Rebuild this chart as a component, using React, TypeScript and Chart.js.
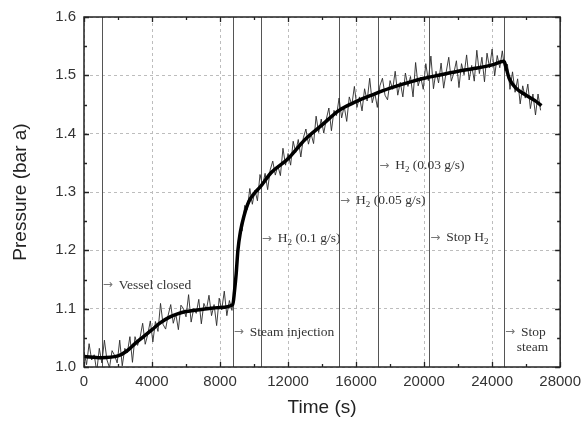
import React, { useEffect, useRef } from "react";
import { Chart, registerables } from "chart.js";

Chart.register(...registerables);

// ---- data ----
const rawTime = [
  0, 150, 300, 450, 600, 750, 900, 1050, 1200, 1350,
  1500, 1650, 1800, 1950, 2100, 2250, 2400, 2550, 2700, 2850,
  3000, 3150, 3300, 3450, 3600, 3750, 3900, 4050, 4200, 4350,
  4500, 4650, 4800, 4950, 5100, 5250, 5400, 5550, 5700, 5850,
  6000, 6150, 6300, 6450, 6600, 6750, 6900, 7050, 7200, 7350,
  7500, 7650, 7800, 7950, 8100, 8250, 8400, 8550, 8700, 8850,
  9000, 9150, 9300, 9450, 9600, 9750, 9900, 10050, 10200, 10350,
  10500, 10650, 10800, 10950, 11100, 11250, 11400, 11550, 11700, 11850,
  12000, 12150, 12300, 12450, 12600, 12750, 12900, 13050, 13200, 13350,
  13500, 13650, 13800, 13950, 14100, 14250, 14400, 14550, 14700, 14850,
  15000, 15150, 15300, 15450, 15600, 15750, 15900, 16050, 16200, 16350,
  16500, 16650, 16800, 16950, 17100, 17250, 17400, 17550, 17700, 17850,
  18000, 18150, 18300, 18450, 18600, 18750, 18900, 19050, 19200, 19350,
  19500, 19650, 19800, 19950, 20100, 20250, 20400, 20550, 20700, 20850,
  21000, 21150, 21300, 21450, 21600, 21750, 21900, 22050, 22200, 22350,
  22500, 22650, 22800, 22950, 23100, 23250, 23400, 23550, 23700, 23850,
  24000, 24150, 24300, 24450, 24600, 24750, 24900, 25050, 25200, 25350,
  25500, 25650, 25800, 25950, 26100, 26250, 26400, 26550, 26700, 26850,
];
const rawPressure = [
  1.026, 1.004, 1.040, 1.012, 1.021, 0.992, 1.032, 1.007, 1.046, 1.012,
  0.999, 1.028, 1.020, 1.007, 1.046, 1.002, 1.032, 1.025, 1.052, 1.008,
  1.052, 1.037, 1.051, 1.075, 1.039, 1.056, 1.079, 1.043, 1.078, 1.061,
  1.109, 1.073, 1.065, 1.089, 1.107, 1.075, 1.091, 1.064, 1.106, 1.100,
  1.086, 1.124, 1.077, 1.100, 1.092, 1.116, 1.074, 1.109, 1.098, 1.123,
  1.088, 1.107, 1.071, 1.118, 1.098, 1.130, 1.088, 1.114, 1.097, 1.135,
  1.172, 1.232, 1.233, 1.277, 1.270, 1.306, 1.279, 1.303, 1.285, 1.330,
  1.311, 1.332, 1.304, 1.338, 1.353, 1.329, 1.345, 1.328, 1.375, 1.346,
  1.366, 1.346, 1.387, 1.368, 1.390, 1.360, 1.393, 1.408, 1.382, 1.400,
  1.383, 1.430, 1.402, 1.425, 1.401, 1.425, 1.444, 1.405, 1.440, 1.431,
  1.461, 1.427, 1.447, 1.421, 1.463, 1.449, 1.481, 1.445, 1.463, 1.439,
  1.477, 1.456, 1.495, 1.453, 1.470, 1.445, 1.482, 1.495, 1.466, 1.458,
  1.491, 1.476, 1.507, 1.466, 1.488, 1.463, 1.504, 1.481, 1.498, 1.463,
  1.522, 1.482, 1.497, 1.476, 1.520, 1.491, 1.533, 1.477, 1.507, 1.487,
  1.521, 1.478, 1.506, 1.531, 1.490, 1.504, 1.525, 1.479, 1.520, 1.501,
  1.535, 1.492, 1.517, 1.490, 1.543, 1.503, 1.531, 1.489, 1.538, 1.513,
  1.545, 1.499, 1.534, 1.513, 1.542, 1.508, 1.519, 1.476, 1.506, 1.471,
  1.494, 1.451, 1.482, 1.461, 1.485, 1.443, 1.468, 1.432, 1.468, 1.440,
];

const meanTime = [
  0, 1000, 2000, 2500, 3000, 3500, 4000, 4500, 5000, 5500, 6000, 7000, 8000,
  8750, 8850, 8950, 9050, 9200, 9400, 9700, 10000, 10400, 11000, 12000, 13000,
  14000, 15000, 16000, 17000, 18000, 19000, 20000, 21000, 22000, 23000, 24000,
  24700, 24850, 25000, 25400, 26000, 26500, 26900,
];
const meanPressure = [
  1.018, 1.016, 1.019, 1.027, 1.040, 1.052, 1.064, 1.076, 1.085, 1.091, 1.095, 1.099, 1.102,
  1.107, 1.130, 1.160, 1.200, 1.232, 1.258, 1.284, 1.297, 1.310, 1.333, 1.357, 1.390,
  1.415, 1.440, 1.455, 1.467, 1.478, 1.487, 1.495, 1.501, 1.507, 1.512, 1.518,
  1.524, 1.510, 1.495, 1.478, 1.466, 1.457, 1.448,
];

// event markers (vertical lines) and their annotations
const eventTimes = [1050, 8750, 10400, 15000, 17300, 20300, 24700];
const eventLabelPressure = [1.14, 1.06, 1.22, 1.285, 1.345, 1.222, 1.06];
// each label: list of lines; each line: list of [text, isSubscript]
const eventLabels: [string, boolean][][][] = [
  [[["Vessel closed", false]]],
  [[["Steam injection", false]]],
  [[["H", false], ["2", true], [" (0.1 g/s)", false]]],
  [[["H", false], ["2", true], [" (0.05 g/s)", false]]],
  [[["H", false], ["2", true], [" (0.03 g/s)", false]]],
  [[["Stop H", false], ["2", true]]],
  [[["Stop", false]], [["steam", false]]],
];

const xMajorTicks = [0, 4000, 8000, 12000, 16000, 20000, 24000, 28000];
const xMinorTicks = [2000, 6000, 10000, 14000, 18000, 22000, 26000];
const yMajorTicks = [1.0, 1.1, 1.2, 1.3, 1.4, 1.5, 1.6];
const yMinorTicks = [1.05, 1.15, 1.25, 1.35, 1.45, 1.55];

const SERIF = '"Liberation Serif", "Times New Roman", serif';
const SANS = '"Liberation Sans", Arial, sans-serif';

const decorPlugin = {
  id: "decor",
  beforeDatasetsDraw(chart: any) {
    const { ctx, chartArea } = chart;
    const xs = chart.scales.x;
    ctx.save();
    ctx.strokeStyle = "#555";
    ctx.lineWidth = 1;
    eventTimes.forEach((t) => {
      const px = Math.round(xs.getPixelForValue(t)) + 0.5;
      ctx.beginPath();
      ctx.moveTo(px, chartArea.top);
      ctx.lineTo(px, chartArea.bottom);
      ctx.stroke();
    });
    ctx.restore();
  },
  afterDatasetsDraw(chart: any) {
    const { ctx } = chart;
    const xs = chart.scales.x;
    const ys = chart.scales.y;
    ctx.save();
    ctx.textBaseline = "middle";
    ctx.textAlign = "left";
    eventTimes.forEach((t, i) => {
      const px = xs.getPixelForValue(t);
      const py = ys.getPixelForValue(eventLabelPressure[i]);
      ctx.fillStyle = "#777";
      ctx.font = `12px "DejaVu Sans", sans-serif`;
      ctx.fillText("\u2192", px + 1, py);
      const lines = eventLabels[i];
      lines.forEach((line, li) => {
        const y = py + li * 15;
        let x = px + 17;
        if (li > 0) {
          ctx.font = `13.5px ${SERIF}`;
          const w0 = lines[0].reduce((s, seg) => s + ctx.measureText(seg[0]).width, 0);
          const w1 = line.reduce((s, seg) => s + ctx.measureText(seg[0]).width, 0);
          x = px + 17 + (w0 - w1) / 2 - 1;
        }
        line.forEach(([txt, sub]) => {
          ctx.fillStyle = "#333";
          if (sub) {
            ctx.font = `9px ${SERIF}`;
            ctx.fillText(txt, x, y + 4);
          } else {
            ctx.font = `13.5px ${SERIF}`;
            ctx.fillText(txt, x, y);
          }
          x += ctx.measureText(txt).width;
        });
      });
    });
    ctx.restore();
  },
  afterDraw(chart: any) {
    const { ctx, chartArea } = chart;
    const xs = chart.scales.x;
    const ys = chart.scales.y;
    const { left, right, top, bottom } = chartArea;
    ctx.save();
    ctx.strokeStyle = "#222";
    ctx.lineWidth = 1.5;
    ctx.strokeRect(left, top, right - left, bottom - top);
    ctx.lineWidth = 1.3;
    const drawX = (vals: number[], len: number) => {
      vals.forEach((v) => {
        const px = Math.round(xs.getPixelForValue(v)) + 0.5;
        ctx.beginPath();
        ctx.moveTo(px, bottom);
        ctx.lineTo(px, bottom - len);
        ctx.moveTo(px, top);
        ctx.lineTo(px, top + len);
        ctx.stroke();
      });
    };
    const drawY = (vals: number[], len: number) => {
      vals.forEach((v) => {
        const py = Math.round(ys.getPixelForValue(v)) + 0.5;
        ctx.beginPath();
        ctx.moveTo(left, py);
        ctx.lineTo(left + len, py);
        ctx.moveTo(right, py);
        ctx.lineTo(right - len, py);
        ctx.stroke();
      });
    };
    drawX(xMajorTicks, 5);
    drawX(xMinorTicks, 3);
    drawY(yMajorTicks, 5);
    drawY(yMinorTicks, 3);
    ctx.restore();
  },
};

export default function App() {
  const canvasRef = useRef<HTMLCanvasElement | null>(null);

  useEffect(() => {
    if (!canvasRef.current) return;
    const rawData = rawTime.map((t, i) => ({ x: t, y: rawPressure[i] }));
    const meanData = meanTime.map((t, i) => ({ x: t, y: meanPressure[i] }));
    const chart = new Chart(canvasRef.current, {
      type: "line",
      data: {
        datasets: [
          {
            label: "Pressure (smoothed)",
            data: meanData,
            borderColor: "#000",
            borderWidth: 3.5,
            pointRadius: 0,
            cubicInterpolationMode: "monotone",
          },
          {
            label: "Pressure",
            data: rawData,
            borderColor: "#2a2a2a",
            borderWidth: 0.9,
            pointRadius: 0,
            tension: 0,
          },
        ],
      },
      options: {
        animation: false,
        responsive: true,
        maintainAspectRatio: false,
        layout: { padding: { top: 14, right: 22, left: 0, bottom: 0 } },
        plugins: {
          legend: { display: false },
          tooltip: { enabled: false },
        },
        scales: {
          x: {
            type: "linear",
            min: 0,
            max: 28000,
            afterFit: (scale: any) => {
              scale.height = 54;
            },
            ticks: {
              stepSize: 4000,
              maxRotation: 0,
              padding: 6,
              color: "#333",
              font: { family: SANS, size: 15 },
              callback: (v: any) => String(v),
            },
            grid: {
              color: "#bdbdbd",
              lineWidth: 1,
              drawTicks: false,
            },
            border: { display: false, dash: [3, 3] },
            title: {
              display: true,
              text: "Time (s)",
              color: "#222",
              font: { family: SANS, size: 19 },
              padding: { top: 0, bottom: 2 },
            },
          },
          y: {
            type: "linear",
            min: 1.0,
            max: 1.6,
            afterFit: (scale: any) => {
              scale.width = 84;
            },
            ticks: {
              stepSize: 0.1,
              padding: 8,
              color: "#333",
              font: { family: SANS, size: 15 },
              callback: (v: any) => Number(v).toFixed(1),
            },
            grid: {
              color: "#bdbdbd",
              lineWidth: 1,
              drawTicks: false,
            },
            border: { display: false, dash: [3, 3] },
            title: {
              display: true,
              text: "Pressure (bar a)",
              color: "#222",
              font: { family: SANS, size: 19 },
              padding: { top: 9, bottom: 0 },
            },
          },
        },
      },
      plugins: [decorPlugin],
    } as any);
    return () => chart.destroy();
  }, []);

  return (
    <div
      style={{
        position: "fixed",
        left: 0,
        top: 0,
        width: 587,
        height: 421,
        background: "#fff",
      }}
    >
      <canvas ref={canvasRef} />
    </div>
  );
}
